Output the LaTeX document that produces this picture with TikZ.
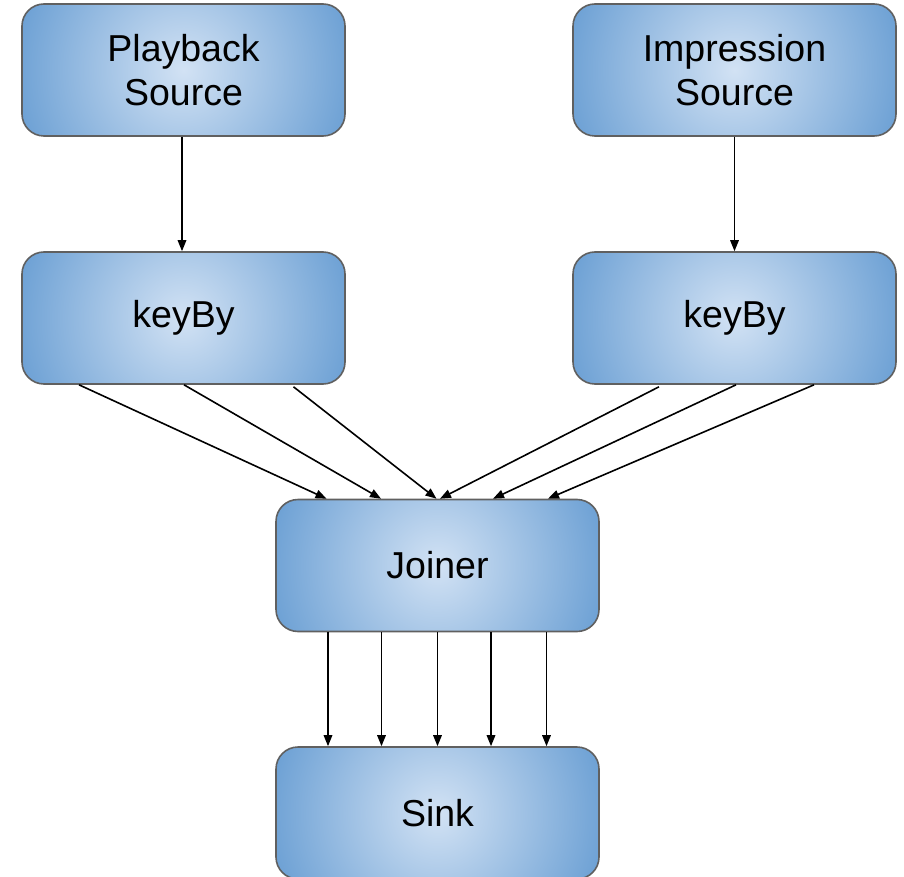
\documentclass[tikz,border=0pt]{standalone}
\usepackage{fontspec}
\setmainfont{Liberation Sans}
\usetikzlibrary{arrows.meta,calc}
\definecolor{boxinner}{RGB}{210,226,244}
\definecolor{boxouter}{RGB}{108,160,212}
\definecolor{boxline}{RGB}{96,96,96}
\tikzset{
  stage/.style={
    draw=boxline, line width=1.6pt, rounded corners=22pt,
    minimum width=323pt, minimum height=132pt, inner sep=0pt,
    fill=boxouter, align=center,
    font=\fontsize{37.5}{44}\selectfont,
    path picture={\shade[inner color=boxinner, outer color=boxouter]
      (path picture bounding box.center) circle (172pt);}
  },
  flow/.style={line width=1.6pt, -{Triangle[length=11pt,width=8.5pt]}}
}
\begin{document}
\begin{tikzpicture}[x=1pt,y=1pt]
\useasboundingbox (0,0) rectangle (904,-877);

\node[stage] (pb) at (183.5,-70)  {Playback\\Source};
\node[stage] (im) at (734.5,-70)  {Impression\\Source};
\node[stage] (kl) at (183.5,-318) {keyBy};
\node[stage] (kr) at (734.5,-318) {keyBy};
\node[stage] (jn) at (437.5,-565.5) {Joiner};
\node[stage] (sk) at (437.5,-813) {Sink};

% sources to keyBy
\draw[flow] ([xshift=-1.5pt]pb.south) -- ([xshift=-1.5pt]kl.north);
\draw[flow] (im.south) -- (kr.north);

% keyBy partitions into the joiner
\draw[flow] ([xshift=-104.5pt]kl.south) -- ([xshift=-111pt]jn.north);
\draw[flow] ([xshift=0.5pt]kl.south)    -- ([xshift=-56.5pt]jn.north);
\draw[flow] ([xshift=110pt,yshift=-2pt]kl.south) -- ([xshift=-1pt]jn.north);
\draw[flow] ([xshift=-75.5pt,yshift=-2pt]kr.south) -- ([xshift=2.5pt]jn.north);
\draw[flow] ([xshift=1.5pt]kr.south)    -- ([xshift=55.5pt]jn.north);
\draw[flow] ([xshift=79.5pt]kr.south)   -- ([xshift=110.5pt]jn.north);

% joiner to sink
\foreach \dx in {-109.5,-56,0,53.5,109}
  \draw[flow] ([xshift=\dx pt]jn.south) -- ([xshift=\dx pt]sk.north);
\end{tikzpicture}
\end{document}
